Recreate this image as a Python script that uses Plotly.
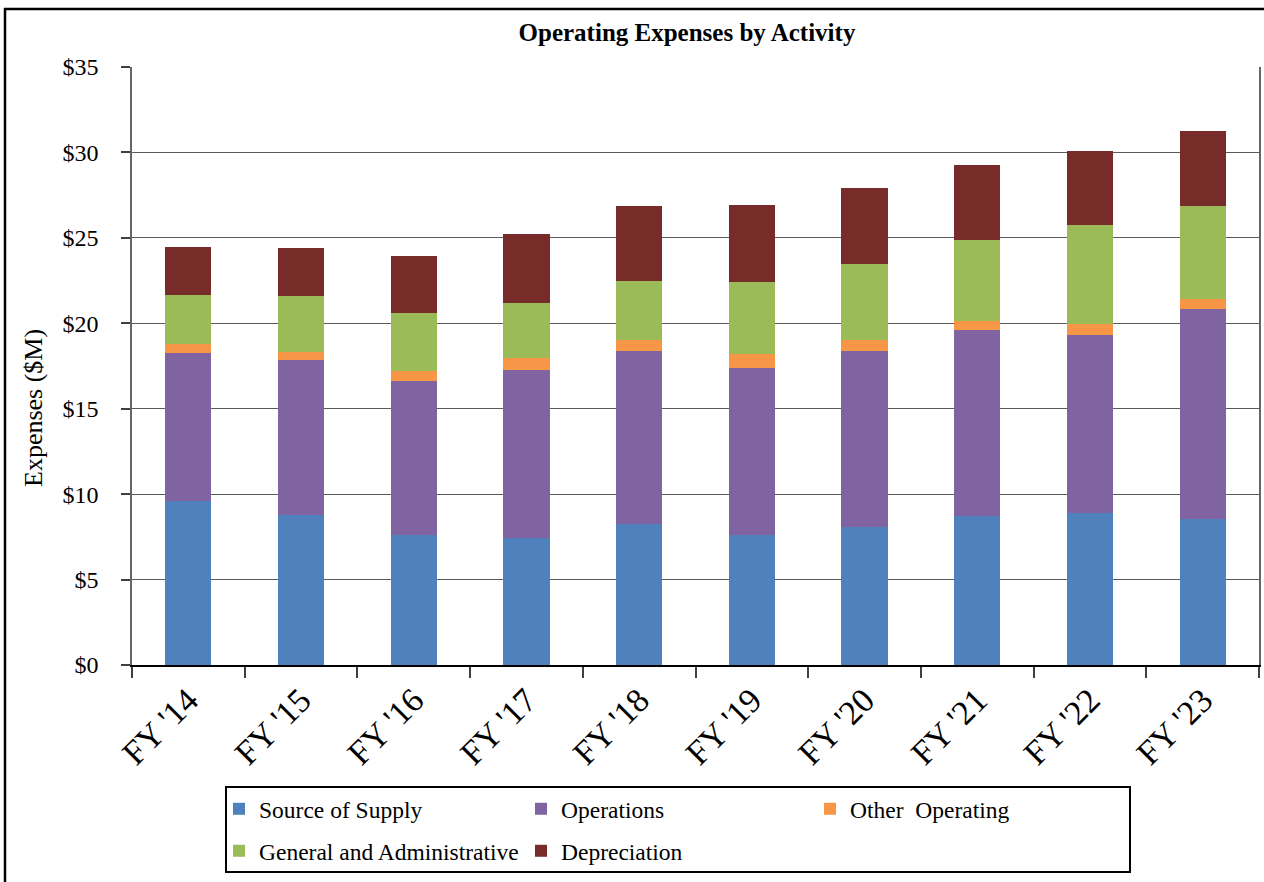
import plotly.graph_objects as go

years = ["FY '14", "FY '15", "FY '16", "FY '17", "FY '18", "FY '19", "FY '20", "FY '21", "FY '22", "FY '23"]
source_of_supply = [9.58, 8.77, 7.58, 7.44, 8.28, 7.62, 8.10, 8.74, 8.87, 8.56]
operations = [8.69, 9.09, 9.04, 9.84, 10.07, 9.78, 10.25, 10.84, 10.42, 12.27]
other_operating = [0.49, 0.47, 0.58, 0.70, 0.70, 0.78, 0.66, 0.53, 0.64, 0.61]
general_admin = [2.92, 3.28, 3.41, 3.22, 3.45, 4.26, 4.45, 4.76, 5.84, 5.42]
depreciation = [2.81, 2.80, 3.33, 4.05, 4.37, 4.48, 4.46, 4.37, 4.29, 4.37]

y_tick_vals = [0, 5, 10, 15, 20, 25, 30, 35]
y_tick_text = ["$0", "$5", "$10", "$15", "$20", "$25", "$30", "$35"]

series = [
    ("Source of Supply", source_of_supply, "#4F81BD", "legend"),
    ("Operations", operations, "#8064A2", "legend2"),
    ("Other\u00a0 Operating", other_operating, "#F79646", "legend3"),
    ("General and Administrative", general_admin, "#9BBB59", "legend4"),
    ("Depreciation", depreciation, "#772C2A", "legend5"),
]

W, H = 1264, 882
L, R, T, B = 132, 1259, 67, 665  # plot area in px
pw, ph = R - L, B - T

def px_x(px):
    return (px - L) / pw

def px_y(py):
    return (B - py) / ph

SERIF = "Liberation Serif, Times New Roman, serif"

fig = go.Figure()
for name, vals, color, lg in series:
    fig.add_trace(go.Bar(
        x=years, y=vals, name=name, legend=lg,
        marker=dict(color=color, line=dict(width=0)),
    ))

legend_common = dict(
    orientation="h", bgcolor="rgba(0,0,0,0)", borderwidth=0,
    font=dict(family=SERIF, size=23.5, color="#000000"),
    xanchor="left", yanchor="middle",
)
row1, row2 = 809, 851
legend_pos = {
    "legend": (219, row1),
    "legend2": (521, row1),
    "legend3": (810, row1),
    "legend4": (219, row2),
    "legend5": (521, row2),
}
layout_legends = {}
for key, (lx, ly) in legend_pos.items():
    layout_legends[key] = dict(legend_common, x=px_x(lx), y=px_y(ly))

fig.update_layout(
    width=W, height=H,
    barmode="stack", bargap=0.59,
    plot_bgcolor="white", paper_bgcolor="white",
    margin=dict(l=L, r=W - R, t=T, b=H - B, autoexpand=False),
    font=dict(family=SERIF, color="#000000"),
    title=dict(
        text="<b>Operating Expenses by Activity</b>",
        font=dict(family=SERIF, size=25, color="#000000"),
        x=px_x(687), xref="paper", xanchor="center",
        y=1 - 32.5 / H, yref="container", yanchor="middle",
    ),
    showlegend=True,
    **layout_legends,
)

fig.update_xaxes(
    type="category", tickson="boundaries",
    ticks="outside", ticklen=11, tickwidth=1.5, tickcolor="#404040",
    showline=True, linecolor="#000000", linewidth=1.5,
    showgrid=False, tickangle=-45,
    tickfont=dict(family=SERIF, size=34, color="#000000"),
)
fig.update_yaxes(
    range=[0, 35], tickmode="array", tickvals=y_tick_vals, ticktext=y_tick_text,
    ticks="outside", ticklen=9, tickwidth=1.5, tickcolor="#404040",
    showline=True, linecolor="#666666", linewidth=1.5, mirror=True,
    showgrid=True, gridcolor="#5a5a5a", gridwidth=1.2,
    zeroline=False, ticklabelstandoff=18,
    tickfont=dict(family=SERIF, size=24, color="#000000"),
)

fig.add_annotation(
    text="Expenses ($M)", textangle=-90, showarrow=False,
    xref="paper", yref="paper", x=px_x(33), y=px_y(408),
    xanchor="center", yanchor="middle",
    font=dict(family=SERIF, size=26, color="#000000"),
)

# outer chart border
fig.add_shape(type="rect", xref="paper", yref="paper",
              x0=px_x(5), x1=px_x(1275), y0=px_y(895), y1=px_y(9),
              line=dict(color="#000000", width=2.5), fillcolor="rgba(0,0,0,0)", layer="above")
# legend border
fig.add_shape(type="rect", xref="paper", yref="paper",
              x0=px_x(226), x1=px_x(1130), y0=px_y(872), y1=px_y(787),
              line=dict(color="#000000", width=2), fillcolor="rgba(0,0,0,0)", layer="above")

fig.write_html("out.html", config={"displayModeBar": False},
               post_script="document.body.style.margin='0px';")
